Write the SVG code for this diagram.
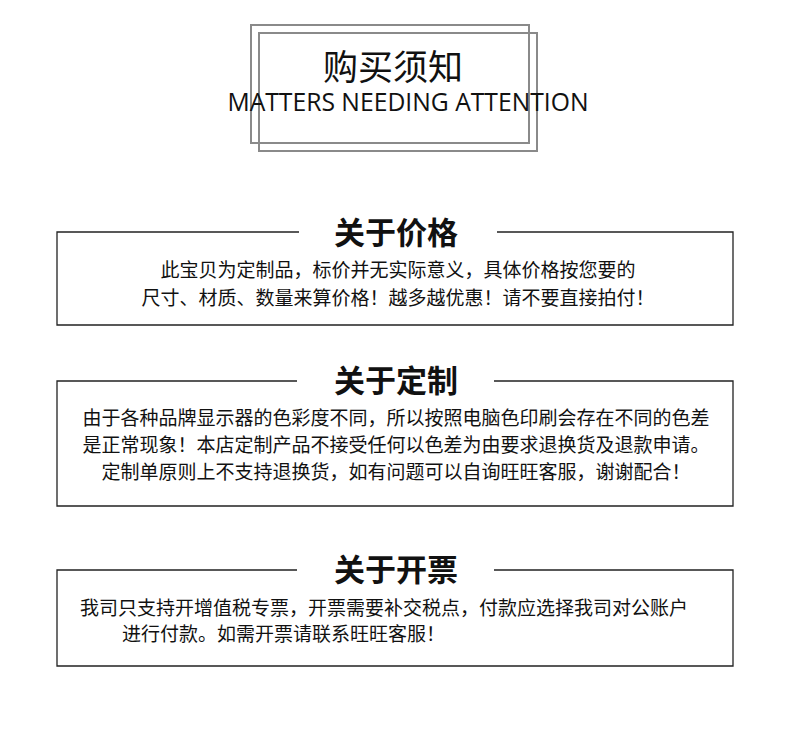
<svg xmlns="http://www.w3.org/2000/svg" width="790" height="751" viewBox="0 0 790 751">
<style>
.f{fill:none;stroke:#8a8a8a;stroke-width:2}
.b{fill:none;stroke:#222;stroke-width:1.3}
.h{font-family:"Noto Sans CJK SC",sans-serif;font-weight:bold;font-size:31px;fill:#111;text-anchor:middle}
.t{font-family:"Noto Sans CJK SC",sans-serif;font-size:19px;fill:#111;text-anchor:middle}
.s{font-family:"Noto Sans CJK SC",sans-serif;font-size:19px;fill:#111}
</style>
<rect width="790" height="751" fill="#fff"/>
<g id="title">
<rect class="f" x="251" y="25" width="278" height="118"/>
<rect class="f" x="259" y="33" width="278" height="118"/>
<text x="393" y="80" font-family="Noto Sans CJK SC,sans-serif" font-size="35" fill="#111" text-anchor="middle">购买须知</text>
<text x="408" y="111" font-family="Open Sans,sans-serif" font-size="24.7" fill="#111" text-anchor="middle">MATTERS NEEDING ATTENTION</text>
</g>
<g id="price">
<path class="b" d="M299 232H57V325H733V232H497"/>
<text class="h" x="396" y="244">关于价格</text>
<text class="t" x="398" y="277">此宝贝为定制品，标价并无实际意义，具体价格按您要的</text>
<text class="t" x="398" y="305">尺寸、材质、数量来算价格！越多越优惠！请不要直接拍付！</text>
</g>
<g id="custom">
<path class="b" d="M297 381H57V506H733V381H494"/>
<text class="h" x="396" y="392">关于定制</text>
<text class="t" x="396" y="425">由于各种品牌显示器的色彩度不同，所以按照电脑色印刷会存在不同的色差</text>
<text class="t" x="396" y="452">是正常现象！本店定制产品不接受任何以色差为由要求退换货及退款申请。</text>
<text class="t" x="396" y="479">定制单原则上不支持退换货，如有问题可以自询旺旺客服，谢谢配合！</text>
</g>
<g id="invoice">
<path class="b" d="M297 570H57V666H733V570H494"/>
<text class="h" x="396" y="581">关于开票</text>
<text class="s" x="80" y="615">我司只支持开增值税专票，开票需要补交税点，付款应选择我司对公账户</text>
<text class="s" x="122" y="641">进行付款。如需开票请联系旺旺客服！</text>
</g>
</svg>
